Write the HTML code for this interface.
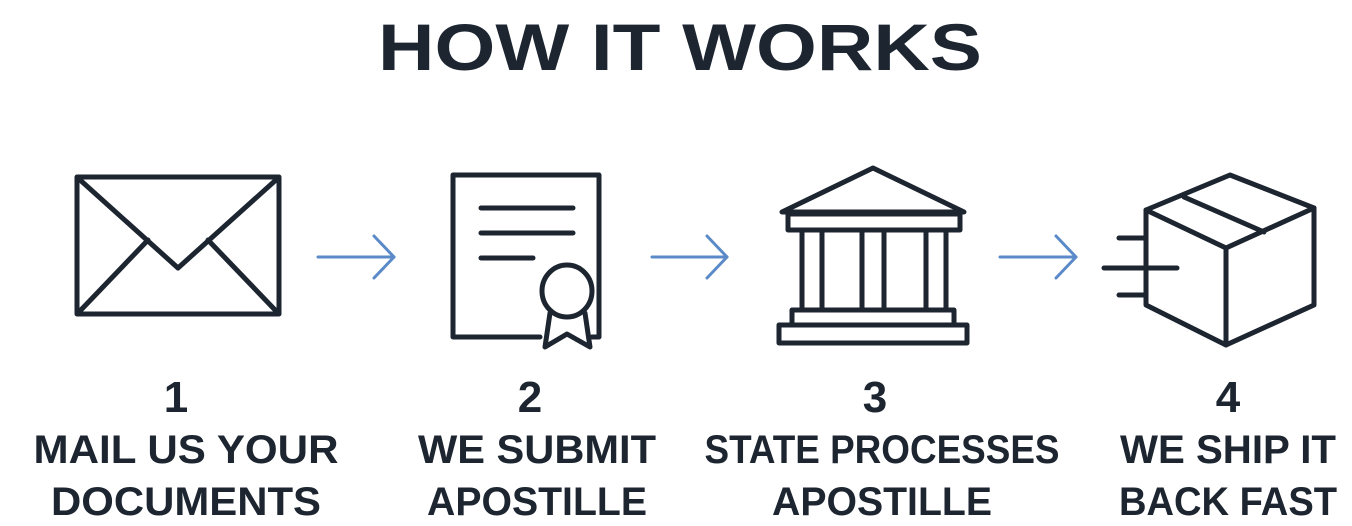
<!DOCTYPE html>
<html><head><meta charset="utf-8"><style>
html,body{margin:0;padding:0;background:#fff;}
svg{display:block;}
text{font-family:"Liberation Sans",sans-serif;font-weight:bold;fill:#1c2530;}
</style></head><body>
<svg width="1352" height="526" viewBox="0 0 1352 526" xmlns="http://www.w3.org/2000/svg">
<text x="680" y="70" text-anchor="middle" font-size="66" textLength="604" lengthAdjust="spacingAndGlyphs">HOW IT WORKS</text>
<g fill="none" stroke="#1c2530" stroke-width="5" stroke-linejoin="round" stroke-linecap="round">
<!-- envelope -->
<rect x="77" y="177" width="202" height="137"/>
<polyline points="79,179 178,268 277,179"/>
<line x1="79" y1="312" x2="148" y2="240"/>
<line x1="277" y1="312" x2="208" y2="240"/>
<!-- document -->
<polyline points="540,337 453,337 453,175 599,175 599,337 592,337"/>
<line x1="481" y1="208" x2="573" y2="208"/>
<line x1="481" y1="233" x2="573" y2="233"/>
<line x1="481" y1="258" x2="533" y2="258"/>
<ellipse cx="567" cy="291" rx="25" ry="26"/>
<polyline points="550,313 545,347 567,334 590,347 585,313"/>
<!-- bank -->
<polygon points="873,168 782,212 964,212"/>
<rect x="788" y="214" width="172" height="16"/>
<line x1="802" y1="230" x2="802" y2="310"/>
<line x1="822" y1="230" x2="822" y2="310"/>
<line x1="862" y1="230" x2="862" y2="310"/>
<line x1="884" y1="230" x2="884" y2="310"/>
<line x1="926" y1="230" x2="926" y2="310"/>
<line x1="946" y1="230" x2="946" y2="310"/>
<rect x="792" y="310" width="162" height="15"/>
<rect x="779" y="325" width="188" height="18"/>
<!-- box -->
<polygon points="1146,210 1230,175 1314,208 1314,305 1226,345 1146,305"/>
<polyline points="1146,210 1226,248 1314,208"/>
<line x1="1226" y1="248" x2="1226" y2="345"/>
<line x1="1184" y1="197" x2="1264" y2="232"/>
<line x1="1119" y1="238" x2="1144" y2="238"/>
<line x1="1104" y1="268" x2="1177" y2="268"/>
<line x1="1119" y1="295" x2="1144" y2="295"/>
</g>
<g fill="none" stroke="#5b8ac8" stroke-width="3" stroke-linecap="round" stroke-linejoin="round">
<line x1="318" y1="257" x2="394" y2="257"/><polyline points="374,236 394,257 374,278"/>
<line x1="652" y1="257" x2="727" y2="257"/><polyline points="707,236 727,257 707,278"/>
<line x1="1000" y1="257" x2="1076" y2="257"/><polyline points="1056,236 1076,257 1056,278"/>
</g>
<g font-size="44" text-anchor="middle">
<text x="176" y="412">1</text>
<text x="530" y="412">2</text>
<text x="875" y="412">3</text>
<text x="1228" y="412">4</text>
</g>
<g font-size="40" text-anchor="middle">
<text x="186" y="463" textLength="305" lengthAdjust="spacingAndGlyphs">MAIL US YOUR</text>
<text x="186" y="515" textLength="270" lengthAdjust="spacingAndGlyphs">DOCUMENTS</text>
<text x="537" y="463" textLength="238" lengthAdjust="spacingAndGlyphs">WE SUBMIT</text>
<text x="537" y="515" textLength="220" lengthAdjust="spacingAndGlyphs">APOSTILLE</text>
<text x="882" y="463" textLength="355" lengthAdjust="spacingAndGlyphs">STATE PROCESSES</text>
<text x="882" y="515" textLength="220" lengthAdjust="spacingAndGlyphs">APOSTILLE</text>
<text x="1228" y="463" textLength="216" lengthAdjust="spacingAndGlyphs">WE SHIP IT</text>
<text x="1228" y="515" textLength="218" lengthAdjust="spacingAndGlyphs">BACK FAST</text>
</g>
</svg>
</body></html>
